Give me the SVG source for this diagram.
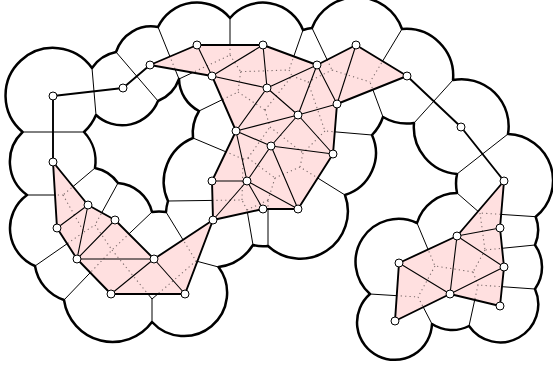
<svg xmlns="http://www.w3.org/2000/svg" width="553" height="368" viewBox="0 0 553 368">
<style>
.disk{fill:none;stroke:#000;stroke-width:2.5;stroke-linejoin:round}
.vor{fill:none;stroke:#000;stroke-width:1}
.dot{fill:none;stroke:#7a6a6a;stroke-width:1.1;stroke-dasharray:1.2 3.2}
.pink{fill:#ffe0e0;stroke:none}
.out{fill:none;stroke:#000;stroke-width:1.9;stroke-linejoin:round}
.in{fill:none;stroke:#000;stroke-width:1.1}
.n{fill:#fff;stroke:#000;stroke-width:1}
</style>
<defs>
<path id="v" d="M27 195L63 195M95 168L63 195M63 195L84 232M35 266L84 232M84 232L95 225M118 183L95 225M95 225L112 250M152 212L112 250M64 300L112 250M112 250L152 299M152 299L152 322M152 299L196 261M196 261L218.5 267M166 212L196 261
M158 27L179 79M179 79L230 55M230 18L230 55M230 55L240.7 71.7M240.7 71.7L289 70M240.7 71.7L238 92M199 111L238 92M238 92L265 110M265 110L292 76M289 70L292 76M303 30L289 70M292 76L308 82M312 28L332 70M308 82L332 70M332 70L370 82M402 29L370 82M383 117L370 82M308 82L325 131M372 135L325 131M325 131L303 153M303 153L300 167M345 195L300 167M300 167L275 178M275 178L268 200M268 246L268 200M268 200L247 210M253 245L247 210M247 210L242 200M168 201L242 200M242 200L243 159M193 138L243 159M243 159L248 158M248 158L275 178M248 158L270 127M265 110L270 127M270 127L303 153
M457 193L480 213M535.7 216.7L480 213M480 213L485 250M535 245L485 250M485 250L473 272M473 272L478 285M535 289L478 285M478 285L469 326M473 272L435 266M417 223L435 266M435 266L418 297M370 294L418 297M418 297L432 324
M92 68L96 115M116 52L158 101M22.6 132L84 132M453 80L414 123M508 134L457 174"/>
<clipPath id="pc">
<polygon points="53,162 88,205 115,220 154,259 213,220 185,294 111,294 77,259 57,228"/>
<polygon points="150,65 197,45 263,45 317,65 356,45 407,76 337,104 333,154 298,209 263,209 213,220 212,181 236,131 212,76"/>
<polygon points="504,181 500,228 504,267 500,306 450,294 395,321 399,263 457,236"/>
</clipPath>
</defs>
<g id="voronoi-solid"><use href="#v" class="vor"/></g>
<g id="disks">
<path class="disk" d="M22.6 132A47.6 47.6 0 1 1 92 68A38 38 0 0 1 116 52A37 37 0 0 1 158 27A43 43 0 0 1 230 18A43 43 0 0 1 303 30A38 38 0 0 1 312 28A48 48 0 0 1 402 29A47 47 0 0 1 453 80A47 47 0 0 1 508 134A46.5 46.5 0 0 1 535.7 216.7A38 38 0 0 1 535 245A38 38 0 0 1 535 289A38 38 0 0 1 469 326A37 37 0 0 1 432 324A37.5 37.5 0 1 1 370 294A43 43 0 0 1 417 223A42 42 0 0 1 457 193A47 47 0 0 1 457 174A47 47 0 0 1 414 123A47 47 0 0 1 383 117A47 47 0 0 1 372 135A44 44 0 0 1 345 195A47.5 47.5 0 0 1 268 246A37 37 0 0 1 253 245A48 48 0 0 1 218.5 267A43.2 43.2 0 0 1 152 322A49 49 0 0 1 64 300A43 43 0 0 1 35 266A41 41 0 0 1 27 195A41 41 0 0 1 22.6 132Z"/>
<path class="disk" d="M96 115A48 48 0 0 1 84 132A43 43 0 0 1 95 168A37 37 0 0 1 118 183A38 38 0 0 1 152 212A47 47 0 0 1 166 212A48 48 0 0 1 168 201A47 47 0 0 1 193 138A43 43 0 0 1 199 111A37 37 0 0 1 179 79A37 37 0 0 1 158 101A38.5 38.5 0 0 1 96 115Z"/>
</g>
<g id="regions">
<polygon class="pink" points="53,162 88,205 115,220 154,259 213,220 185,294 111,294 77,259 57,228"/>
<polygon class="pink" points="150,65 197,45 263,45 317,65 356,45 407,76 337,104 333,154 298,209 263,209 213,220 212,181 236,131 212,76"/>
<polygon class="pink" points="504,181 500,228 504,267 500,306 450,294 395,321 399,263 457,236"/>
</g>
<g id="voronoi-dotted" clip-path="url(#pc)"><use href="#v" class="dot"/></g>
<g id="connectors">
<path class="in" d="M57 228L88 205M88 205L77 259M77 259L115 220M77 259L154 259M154 259L111 294M154 259L185 294
M197 45L212 76M212 76L263 45M212 76L267 88M263 45L267 88M267 88L317 65M267 88L236 131M267 88L298 115M317 65L298 115M317 65L337 104M356 45L337 104M298 115L337 104M236 131L298 115M236 131L271 146M298 115L271 146M271 146L333 154M298 115L333 154M236 131L247 181M271 146L247 181M271 146L298 209M212 181L247 181M247 181L213 220M247 181L263 209M247 181L298 209
M457 236L500 228M457 236L504 267M457 236L450 294M504 267L450 294M450 294L399 263"/>
<polygon class="out" points="53,162 88,205 115,220 154,259 213,220 185,294 111,294 77,259 57,228"/>
<polygon class="out" points="150,65 197,45 263,45 317,65 356,45 407,76 337,104 333,154 298,209 263,209 213,220 212,181 236,131 212,76"/>
<polygon class="out" points="504,181 500,228 504,267 500,306 450,294 395,321 399,263 457,236"/>
<path class="out" d="M53 162L53 96L123 88L150 65M407 76L461 127L504 181"/>
</g>
<g id="n1"><circle class="n" cx="53" cy="96" r="4"/></g>
<g id="n2"><circle class="n" cx="123" cy="88" r="4"/></g>
<g id="n3"><circle class="n" cx="150" cy="65" r="4"/></g>
<g id="n4"><circle class="n" cx="197" cy="45" r="4"/></g>
<g id="n5"><circle class="n" cx="212" cy="76" r="4"/></g>
<g id="n6"><circle class="n" cx="263" cy="45" r="4"/></g>
<g id="n7"><circle class="n" cx="267" cy="88" r="4"/></g>
<g id="n8"><circle class="n" cx="317" cy="65" r="4"/></g>
<g id="n9"><circle class="n" cx="356" cy="45" r="4"/></g>
<g id="n10"><circle class="n" cx="407" cy="76" r="4"/></g>
<g id="n11"><circle class="n" cx="337" cy="104" r="4"/></g>
<g id="n12"><circle class="n" cx="298" cy="115" r="4"/></g>
<g id="n13"><circle class="n" cx="236" cy="131" r="4"/></g>
<g id="n14"><circle class="n" cx="271" cy="146" r="4"/></g>
<g id="n15"><circle class="n" cx="333" cy="154" r="4"/></g>
<g id="n16"><circle class="n" cx="212" cy="181" r="4"/></g>
<g id="n17"><circle class="n" cx="247" cy="181" r="4"/></g>
<g id="n18"><circle class="n" cx="263" cy="209" r="4"/></g>
<g id="n19"><circle class="n" cx="298" cy="209" r="4"/></g>
<g id="n20"><circle class="n" cx="213" cy="220" r="4"/></g>
<g id="n21"><circle class="n" cx="53" cy="162" r="4"/></g>
<g id="n22"><circle class="n" cx="88" cy="205" r="4"/></g>
<g id="n23"><circle class="n" cx="115" cy="220" r="4"/></g>
<g id="n24"><circle class="n" cx="57" cy="228" r="4"/></g>
<g id="n25"><circle class="n" cx="77" cy="259" r="4"/></g>
<g id="n26"><circle class="n" cx="154" cy="259" r="4"/></g>
<g id="n27"><circle class="n" cx="111" cy="294" r="4"/></g>
<g id="n28"><circle class="n" cx="185" cy="294" r="4"/></g>
<g id="n29"><circle class="n" cx="461" cy="127" r="4"/></g>
<g id="n30"><circle class="n" cx="504" cy="181" r="4"/></g>
<g id="n31"><circle class="n" cx="500" cy="228" r="4"/></g>
<g id="n32"><circle class="n" cx="457" cy="236" r="4"/></g>
<g id="n33"><circle class="n" cx="504" cy="267" r="4"/></g>
<g id="n34"><circle class="n" cx="399" cy="263" r="4"/></g>
<g id="n35"><circle class="n" cx="450" cy="294" r="4"/></g>
<g id="n36"><circle class="n" cx="500" cy="306" r="4"/></g>
<g id="n37"><circle class="n" cx="395" cy="321" r="4"/></g>
</svg>
